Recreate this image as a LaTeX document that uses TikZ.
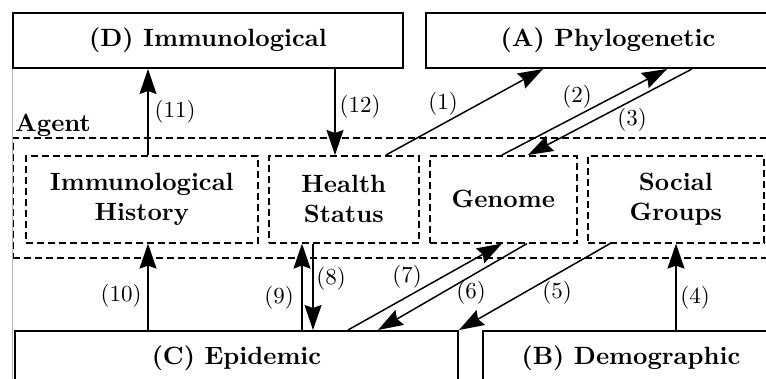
\documentclass[tikz,border=0pt]{standalone}
\usepackage{fontspec}
\newfontfamily\lblfont{lmroman10-regular}[Extension=.otf]
\newfontfamily\ttlfont{lmroman10-bold}[Extension=.otf]
\usetikzlibrary{arrows.meta}
\begin{document}
\begin{tikzpicture}[x=1pt,y=-1pt,
  solidbox/.style={draw, line width=2pt, font=\fontsize{25}{30}\ttlfont, inner sep=0pt, anchor=north west},
  dbox/.style={draw, line width=1.6pt, dash pattern=on 7pt off 4pt, align=center, font=\fontsize{25}{30}\ttlfont, inner sep=0pt, anchor=north west},
  outerbox/.style={draw, line width=1.8pt, dash pattern=on 7pt off 4pt, inner sep=0pt, anchor=north west},
  arr/.style={line width=1.5pt, -{Stealth[length=25pt,width=17pt,inset=3pt]}},
  lbl/.style={font=\fontsize{23}{27}\lblfont, inner sep=0pt},
  edgegray/.style={draw=black!30, line width=0.8pt}]
\useasboundingbox (0,0) rectangle (766,379);
\clip (0,0) rectangle (766,379);
% top boxes
\node[solidbox, minimum width=390pt, minimum height=55pt] (D) at (12,12) {(D) Immunological};
\node[solidbox, minimum width=364pt, minimum height=55pt] (A) at (425,12) {(A) Phylogenetic};
% agent
\node[outerbox, minimum width=790pt, minimum height=120pt] (AG) at (12,137) {};
\node[font=\fontsize{25}{30}\ttlfont, anchor=base west, inner sep=0pt] (AGL) at (15,132) {Agent};
\node[dbox, minimum width=232pt, minimum height=87pt] (IH) at (25,155) {Immunological\\History};
\node[dbox, minimum width=150pt, minimum height=87pt] (HS) at (268,155) {Health\\Status};
\node[dbox, minimum width=147pt, minimum height=87pt] (G) at (429,155) {Genome};
\node[dbox, minimum width=176pt, minimum height=87pt] (SG) at (587,155) {Social\\Groups};
% bottom boxes
\node[solidbox, minimum width=443pt, minimum height=55pt] (C) at (14,330) {(C) Epidemic};
\node[solidbox, minimum width=296pt, minimum height=55pt] (B) at (482,330) {(B) Demographic};
% crop line
\coordinate (gb) at (12,379);
\draw[edgegray] (D.south west) -- (gb);
% arrows
\draw[arr] (IH.north -| 148,0) -- (D.south -| 148,0);
\draw[arr] (D.south -| 335,0) -- (HS.north -| 335,0);
\draw[arr] (HS.north -| 386,0) -- (A.south -| 543,0);
\draw[arr] (G.north -| 502,0) -- (A.south -| 667,0);
\draw[arr] (A.south -| 692,0) -- (G.north -| 528,0);
\draw[arr] (B.north -| 676,0) -- (SG.south -| 676,0);
\draw[arr] (SG.south -| 610,0) -- (C.north east);
\draw[arr] (G.south -| 527,0) -- (C.north -| 378,0);
\draw[arr] (C.north -| 348,0) -- (G.south -| 502,0);
\draw[arr] (HS.south -| 313,0) -- (C.north -| 313,0);
\draw[arr] (C.north -| 302,0) -- (HS.south -| 302,0);
\draw[arr] (C.north -| 148,0) -- (IH.south -| 148,0);
% labels
\node[lbl] (l1) at (443,104) {(1)};
\node[lbl] (l2) at (577,97) {(2)};
\node[lbl] (l3) at (632,120) {(3)};
\node[lbl] (l4) at (695,298) {(4)};
\node[lbl] (l5) at (557,293) {(5)};
\node[lbl] (l6) at (471,293) {(6)};
\node[lbl] (l7) at (407,277) {(7)};
\node[lbl] (l8) at (331,279) {(8)};
\node[lbl] (l9) at (279,298) {(9)};
\node[lbl] (l10) at (121,296) {(10)};
\node[lbl] (l11) at (175,112) {(11)};
\node[lbl] (l12) at (360,107) {(12)};
\end{tikzpicture}
\end{document}
